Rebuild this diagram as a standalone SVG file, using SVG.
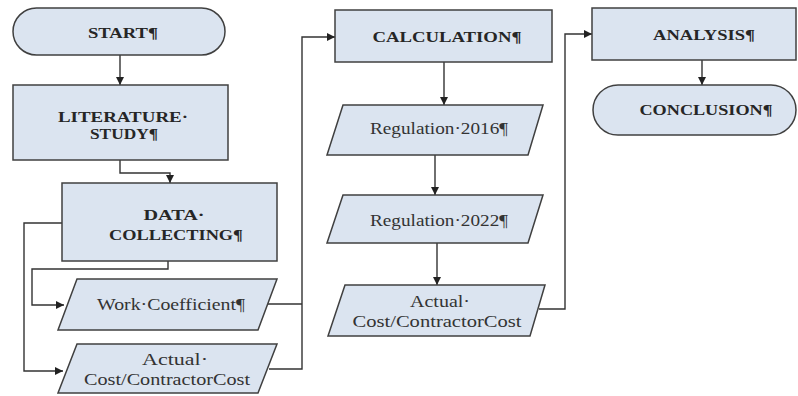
<svg xmlns="http://www.w3.org/2000/svg" width="798" height="396" viewBox="0 0 798 396">
<style>
.shape{fill:#dbe4f0;stroke:#404040;stroke-width:1.5}
.b{font-family:"Liberation Serif","Times New Roman",serif;font-weight:bold;font-size:15px;fill:#262626;text-anchor:middle}
.r{font-family:"Liberation Serif","Times New Roman",serif;font-size:16px;fill:#333;text-anchor:middle}
.c{fill:none;stroke:#333;stroke-width:1.4}
</style>
<defs>
<marker id="ah" viewBox="0 0 10 10" refX="10" refY="5" markerWidth="8" markerHeight="8" markerUnits="userSpaceOnUse" orient="auto">
<path d="M0,0 L10,5 L0,10 z" fill="#222"/>
</marker>
</defs>
<rect width="798" height="396" fill="#fff"/>
<g id="connectors">
<path class="c" d="M120,55 V85" marker-end="url(#ah)"/>
<path class="c" d="M120,160 V173 H170 V183" marker-end="url(#ah)"/>
<path class="c" d="M168,261 V269 H32 V305 H64" marker-end="url(#ah)"/>
<path class="c" d="M62,223 H24 V371 H63" marker-end="url(#ah)"/>
<path class="c" d="M268,304 H302"/>
<path class="c" d="M269,369 H302 V37 H335" marker-end="url(#ah)"/>
<path class="c" d="M444,62 V105" marker-end="url(#ah)"/>
<path class="c" d="M435,155 V195" marker-end="url(#ah)"/>
<path class="c" d="M437,243 V285" marker-end="url(#ah)"/>
<path class="c" d="M539,309 H565 V34 H592" marker-end="url(#ah)"/>
<path class="c" d="M702,60 V85" marker-end="url(#ah)"/>
</g>
<g id="start">
<rect class="shape" x="13" y="8" width="212" height="47" rx="23.5"/>
<text class="b" x="123" y="38" textLength="70" lengthAdjust="spacingAndGlyphs">START¶</text>
</g>
<g id="literature">
<rect class="shape" x="13" y="85" width="215" height="75"/>
<text class="b" x="123" y="122" textLength="130" lengthAdjust="spacingAndGlyphs">LITERATURE·</text>
<text class="b" x="124" y="139" textLength="68" lengthAdjust="spacingAndGlyphs">STUDY¶</text>
</g>
<g id="data">
<rect class="shape" x="62" y="183" width="215" height="78"/>
<text class="b" x="174" y="220" textLength="61" lengthAdjust="spacingAndGlyphs">DATA·</text>
<text class="b" x="176" y="240" textLength="134" lengthAdjust="spacingAndGlyphs">COLLECTING¶</text>
</g>
<g id="work">
<polygon class="shape" points="77,279 277,279 258,330 58,330"/>
<text class="r" x="171" y="310" textLength="148" lengthAdjust="spacingAndGlyphs">Work·Coefficient¶</text>
</g>
<g id="actual1">
<polygon class="shape" points="77,344 277,344 258,393 58,393"/>
<text class="r" x="175" y="365" textLength="66" lengthAdjust="spacingAndGlyphs">Actual·</text>
<text class="r" x="167" y="385" textLength="166" lengthAdjust="spacingAndGlyphs">Cost/ContractorCost</text>
</g>
<g id="calculation">
<rect class="shape" x="335" y="10" width="217" height="52"/>
<text class="b" x="447" y="42" textLength="149" lengthAdjust="spacingAndGlyphs">CALCULATION¶</text>
</g>
<g id="reg2016">
<polygon class="shape" points="343,105 543,105 528,155 327,155"/>
<text class="r" x="439" y="134" textLength="138" lengthAdjust="spacingAndGlyphs">Regulation·2016¶</text>
</g>
<g id="reg2022">
<polygon class="shape" points="343,195 543,195 528,243 327,243"/>
<text class="r" x="439" y="226" textLength="138" lengthAdjust="spacingAndGlyphs">Regulation·2022¶</text>
</g>
<g id="actual2">
<polygon class="shape" points="345,285 545,285 530,336 328,336"/>
<text class="r" x="440" y="307" textLength="60" lengthAdjust="spacingAndGlyphs">Actual·</text>
<text class="r" x="437" y="327" textLength="169" lengthAdjust="spacingAndGlyphs">Cost/ContractorCost</text>
</g>
<g id="analysis">
<rect class="shape" x="592" y="8" width="204" height="52"/>
<text class="b" x="704" y="40" textLength="102" lengthAdjust="spacingAndGlyphs">ANALYSIS¶</text>
</g>
<g id="conclusion">
<rect class="shape" x="593" y="85" width="203" height="50" rx="25"/>
<text class="b" x="706" y="115" textLength="133" lengthAdjust="spacingAndGlyphs">CONCLUSION¶</text>
</g>
</svg>
